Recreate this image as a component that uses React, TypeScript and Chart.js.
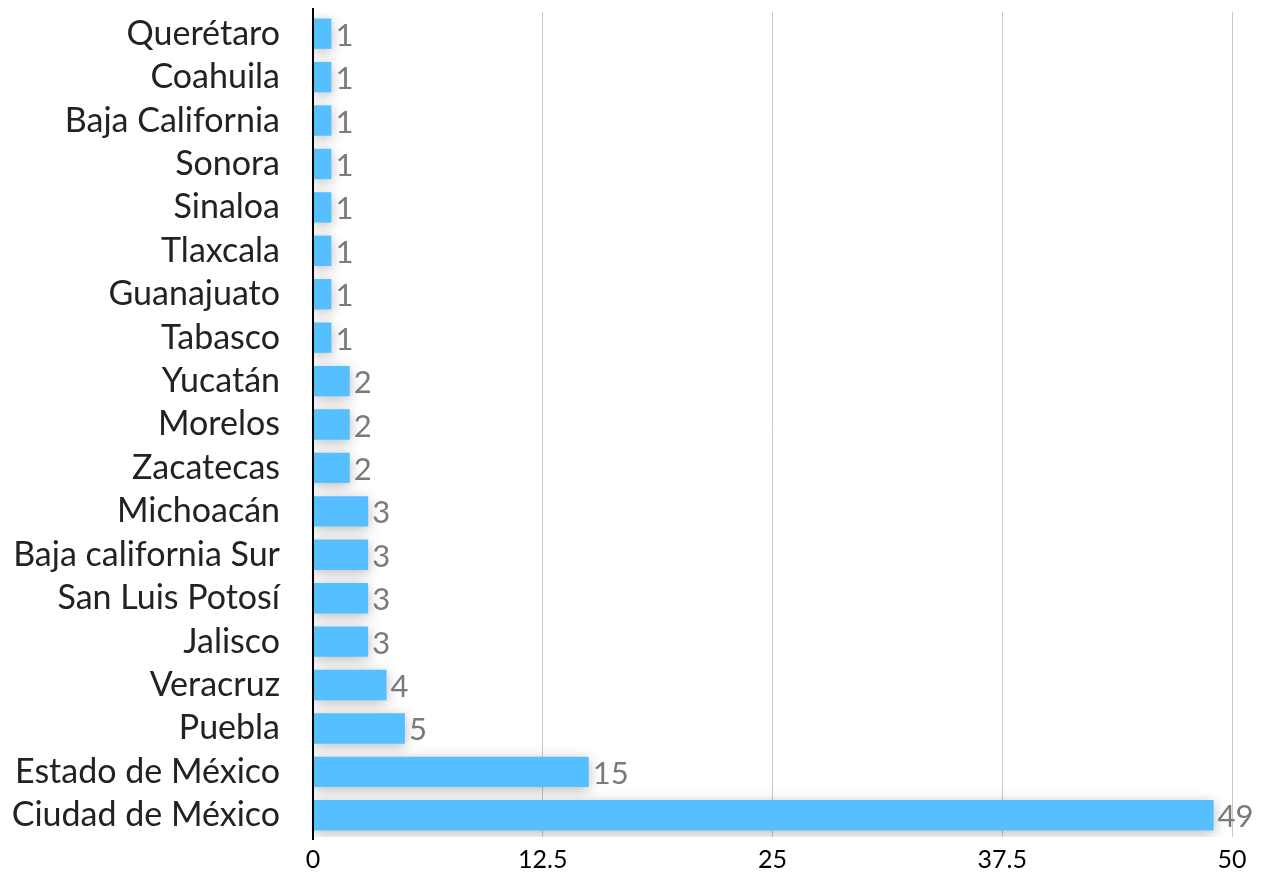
import React, { useEffect, useRef } from "react";
import { Chart, registerables } from "chart.js";

Chart.register(...registerables);

const categories: string[] = [
  "Querétaro",
  "Coahuila",
  "Baja California",
  "Sonora",
  "Sinaloa",
  "Tlaxcala",
  "Guanajuato",
  "Tabasco",
  "Yucatán",
  "Morelos",
  "Zacatecas",
  "Michoacán",
  "Baja california Sur",
  "San Luis Potosí",
  "Jalisco",
  "Veracruz",
  "Puebla",
  "Estado de México",
  "Ciudad de México",
];

const values: number[] = [1, 1, 1, 1, 1, 1, 1, 1, 2, 2, 2, 3, 3, 3, 3, 4, 5, 15, 49];

const xTicks: number[] = [0, 12.5, 25, 37.5, 50];

const FONT = "Lato, 'Open Sans', sans-serif";

const shadowPlugin = {
  id: "barShadow",
  beforeDatasetsDraw(chart: any) {
    const ctx = chart.ctx;
    ctx.save();
    ctx.shadowColor = "rgba(0,0,0,0.28)";
    ctx.shadowBlur = 14;
    ctx.shadowOffsetX = 0;
    ctx.shadowOffsetY = 3;
  },
  afterDatasetsDraw(chart: any) {
    chart.ctx.restore();
  },
};

const valueLabelPlugin = {
  id: "valueLabels",
  afterDatasetsDraw(chart: any) {
    const ctx = chart.ctx;
    const meta = chart.getDatasetMeta(0);
    const data = chart.data.datasets[0].data as number[];
    ctx.save();
    ctx.font = `31px ${FONT}`;
    ctx.fillStyle = "#7a7a7a";
    ctx.textAlign = "left";
    ctx.textBaseline = "middle";
    meta.data.forEach((bar: any, i: number) => {
      ctx.fillText(String(data[i]), bar.x + 4, bar.y + 2);
    });
    ctx.restore();
  },
};

const axisLinePlugin = {
  id: "axisLine",
  afterDraw(chart: any) {
    const { ctx, chartArea } = chart;
    ctx.save();
    ctx.strokeStyle = "#000000";
    ctx.lineWidth = 2;
    ctx.beginPath();
    ctx.moveTo(chartArea.left, chartArea.top - 4);
    ctx.lineTo(chartArea.left, chartArea.bottom + 3);
    ctx.stroke();
    ctx.restore();
  },
};

export default function App() {
  const canvasRef = useRef<HTMLCanvasElement | null>(null);

  useEffect(() => {
    if (!canvasRef.current) return;
    const chart = new Chart(canvasRef.current, {
      type: "bar",
      data: {
        labels: categories,
        datasets: [
          {
            data: values,
            backgroundColor: "#55bfff",
            borderWidth: 0,
            barPercentage: 0.7,
            categoryPercentage: 1,
          },
        ],
      },
      plugins: [shadowPlugin, valueLabelPlugin, axisLinePlugin],
      options: {
        indexAxis: "y",
        animation: false,
        responsive: true,
        maintainAspectRatio: false,
        layout: { padding: { top: 12, right: 37, bottom: 3, left: 0 } },
        plugins: {
          legend: { display: false },
          tooltip: { enabled: false },
        },
        scales: {
          x: {
            min: 0,
            max: 50,
            afterBuildTicks(axis: any) {
              axis.ticks = xTicks.map((v) => ({ value: v }));
            },
            afterFit(axis: any) {
              axis.height = 38;
            },
            ticks: {
              color: "#000000",
              font: { family: FONT, size: 25 },
              padding: 8,
              callback: (v: any) => String(v),
            },
            grid: {
              color: (c: any) => (c.tick && c.tick.value === 0 ? "rgba(0,0,0,0)" : "#c8c8c8"),
              lineWidth: 1,
              drawTicks: false,
            },
            border: { display: false },
          },
          y: {
            afterFit(axis: any) {
              axis.width = 313;
              axis.paddingTop = 0;
              axis.paddingBottom = 0;
            },
            ticks: {
              color: "#222222",
              font: { family: FONT, size: 34 },
              padding: 33,
              autoSkip: false,
            },
            grid: { display: false, drawTicks: false },
            border: { display: false },
          },
        },
      },
    });
    return () => chart.destroy();
  }, []);

  return (
    <div style={{ position: "fixed", left: 0, top: 0, width: 1269, height: 878, background: "#ffffff" }}>
      <canvas ref={canvasRef} />
    </div>
  );
}
